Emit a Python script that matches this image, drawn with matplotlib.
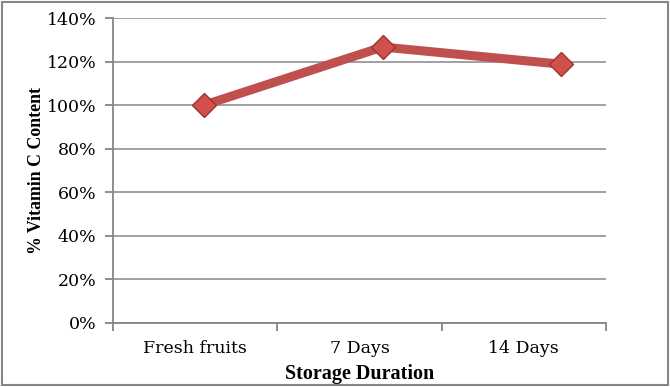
"""Line chart of vitamin C content over storage duration."""

import matplotlib.pyplot as plt
from matplotlib.patches import Rectangle

categories = ["Fresh fruits", "7 Days", "14 Days"]
vitamin_c_pct = [100, 126.7, 118.8]
y_ticks = [0, 20, 40, 60, 80, 100, 120, 140]

GRID = "#868686"
RED = "#C0504D"

plt.rcParams["font.family"] = "DejaVu Serif"

fig = plt.figure(figsize=(6.7, 3.87), dpi=100)
fig.patches.append(Rectangle((0.003, 0.004), 0.994, 0.992, transform=fig.transFigure,
                             fill=False, edgecolor=GRID, linewidth=1.5))

ax = fig.add_axes([0.1687, 0.1654, 0.7358, 0.788])

# data axis: points sit slightly right of the category centres, as in the original
x = list(range(len(categories)))
ax.plot(x, vitamin_c_pct, "-", color=RED, linewidth=6.5, solid_capstyle="butt", zorder=3)
ax.plot(x, vitamin_c_pct, "D", markersize=12.5, markerfacecolor="#D2504C",
        markeredgecolor="#9A3431", markeredgewidth=1.0, zorder=4)
ax.set_xlim(-0.508, 2.25)
ax.set_ylim(0, 140)
ax.set_yticks(y_ticks)
ax.set_yticklabels([f"{v}%" for v in y_ticks], fontsize=12.5)
ax.grid(axis="y", color=GRID, linewidth=1.1)
ax.set_axisbelow(True)
ax.set_xticks([])
for s in ["top", "right"]:
    ax.spines[s].set_visible(False)
for s in ["left", "bottom"]:
    ax.spines[s].set_color(GRID)
    ax.spines[s].set_linewidth(1.3)
ax.tick_params(axis="y", direction="out", length=6, width=1.3, color=GRID, pad=6)
ax.set_ylabel("% Vitamin C Content", family="Liberation Serif", size=12.8,
              weight="bold", labelpad=1.5)

# category axis for ticks and labels
cat = ax.twiny()
cat.set_xlim(0, len(categories))
cat.xaxis.set_ticks_position("bottom")
cat.xaxis.set_label_position("bottom")
cat.set_xticks(range(len(categories) + 1))
cat.set_xticklabels([])
cat.set_xticks([i + 0.5 for i in range(len(categories))], minor=True)
cat.set_xticklabels(categories, minor=True, fontsize=12.5)
cat.tick_params(axis="x", which="major", direction="out", length=6, width=1.3, color=GRID)
cat.tick_params(axis="x", which="minor", length=0, pad=12)
for s in cat.spines.values():
    s.set_visible(False)
cat.set_xlabel("Storage Duration", family="Liberation Serif", size=14.5,
               weight="bold", labelpad=5)

fig.savefig("out.png", dpi=100)
